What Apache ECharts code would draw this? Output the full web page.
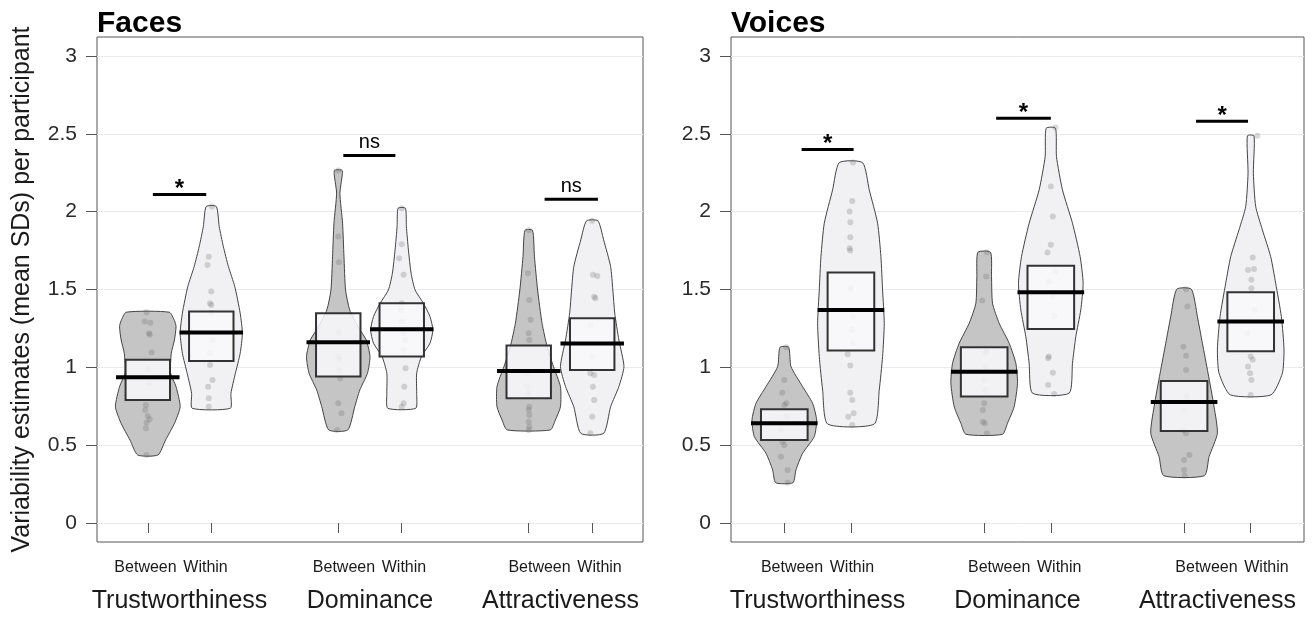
<!DOCTYPE html>
<html lang="en">
<head>
<meta charset="UTF-8">
<title>Variability estimates</title>
<script src="https://cdn.jsdelivr.net/npm/echarts@6.0.0/dist/echarts.min.js"></script>
<style>
  html, body { margin: 0; padding: 0; background: #fff; }
  #main { width: 1313px; height: 617px; }
</style>
</head>
<body>
<div id="main"></div>
<script>
// x positions of the six violins (Between/Within per trait)
var positions = [1, 2, 4, 5, 7, 8];
var traits = ['Trustworthiness', 'Dominance', 'Attractiveness'];
var traitPositions = [1.5, 4.5, 7.5];
var conditions = ['Between', 'Within'];
// where the Between/Within words sit (they are not centred on the ticks)
var facesConditionLabelPos = [0.964, 1.909, 4.09, 5.035, 7.17, 8.115];
var voicesConditionLabelPos = [1.116, 2.016, 4.225, 5.126, 7.336, 8.237];
var yTicks = [0, 0.5, 1, 1.5, 2, 2.5, 3];

// violin outlines: [value, half width], top to bottom
var facesOutlines = [
  [[1.354,0.34],[1.30,0.42],[1.262,0.445],[1.176,0.42],[1.09,0.37],[0.962,0.36],[0.876,0.445],[0.747,0.51],[0.64,0.42],[0.533,0.28],[0.437,0.16]],
  [[2.033,0.08],[1.905,0.125],[1.776,0.19],[1.647,0.27],[1.519,0.37],[1.348,0.455],[1.219,0.49],[1.09,0.455],[0.962,0.38],[0.834,0.31],[0.737,0.30]],
  [[2.264,0.063],[2.119,0.026],[1.926,0.068],[1.711,0.09],[1.497,0.115],[1.369,0.18],[1.262,0.31],[1.176,0.44],[1.069,0.50],[0.962,0.46],[0.855,0.34],[0.747,0.26],[0.598,0.15]],
  [[2.022,0.058],[1.905,0.073],[1.755,0.105],[1.605,0.147],[1.497,0.21],[1.412,0.34],[1.326,0.445],[1.24,0.49],[1.155,0.445],[1.069,0.31],[0.962,0.235],[0.834,0.235],[0.737,0.22]],
  [[1.88,0.06],[1.711,0.09],[1.497,0.14],[1.283,0.21],[1.133,0.29],[1.005,0.39],[0.876,0.50],[0.747,0.50],[0.662,0.42],[0.598,0.34]],
  [[1.941,0.09],[1.819,0.18],[1.647,0.29],[1.497,0.325],[1.348,0.355],[1.176,0.42],[1.005,0.50],[0.876,0.42],[0.747,0.29],[0.576,0.18]]
];
var voicesOutlines = [
  [[1.129,0.065],[1.005,0.10],[0.876,0.275],[0.769,0.425],[0.662,0.485],[0.555,0.45],[0.448,0.275],[0.341,0.175],[0.259,0.13]],
  [[2.315,0.175],[2.14,0.275],[1.926,0.40],[1.711,0.45],[1.497,0.475],[1.283,0.50],[1.069,0.475],[0.855,0.425],[0.636,0.35]],
  [[1.739,0.095],[1.583,0.11],[1.412,0.125],[1.283,0.225],[1.155,0.375],[1.026,0.475],[0.898,0.50],[0.747,0.45],[0.641,0.35],[0.57,0.275]],
  [[2.536,0.07],[2.354,0.085],[2.14,0.175],[1.926,0.325],[1.711,0.44],[1.54,0.485],[1.369,0.45],[1.197,0.375],[1.026,0.325],[0.834,0.275]],
  [[1.502,0.11],[1.326,0.20],[1.155,0.275],[0.962,0.36],[0.747,0.45],[0.576,0.50],[0.426,0.375],[0.304,0.305]],
  [[2.487,0.05],[2.247,0.04],[2.033,0.075],[1.884,0.175],[1.711,0.30],[1.54,0.375],[1.326,0.46],[1.112,0.50],[0.962,0.475],[0.823,0.305]]
];

// boxes [low, high] and means
var facesBoxes = [[0.79,1.048],[1.041,1.358],[0.941,1.348],[1.069,1.412],[0.801,1.14],[0.983,1.315]];
var facesMeans = [0.936, 1.223, 1.161, 1.244, 0.977, 1.153];
var voicesBoxes = [[0.533,0.73],[1.108,1.609],[0.812,1.129],[1.247,1.652],[0.591,0.913],[1.103,1.483]];
var voicesMeans = [0.641, 1.369, 0.972, 1.483, 0.778, 1.294];

// participant points: [value, horizontal jitter]
var facesPoints = [
  [[1.354,-0.02],[1.294,-0.05],[1.287,0.04],[1.219,0.02],[1.21,0.03],[1.095,0.06],[0.988,0],[0.898,0.02],[0.758,-0.03],[0.726,-0.04],[0.688,0],[0.666,0.03],[0.645,-0.02],[0.608,-0.03],[0.437,-0.02]],
  [[2.033,0.01],[1.711,-0.04],[1.658,-0.06],[1.487,0],[1.412,-0.02],[1.401,0],[1.348,0],[1.176,0.02],[1.09,-0.02],[1.015,-0.02],[0.919,0.02],[0.876,-0.05],[0.801,-0.04],[0.747,-0.04]],
  [[2.264,0],[1.84,0],[1.675,0.01],[1.223,0.01],[1.069,0],[1.048,0.02],[0.983,0.01],[0.93,0.03],[0.769,0],[0.705,0.05],[0.598,-0.02]],
  [[2.022,0],[1.791,0],[1.701,-0.04],[1.594,0.03],[1.412,0],[1.369,-0.01],[1.294,0],[1.219,0.03],[1.176,0.05],[1.112,0.03],[0.994,0.06],[0.876,0.04],[0.769,0.03],[0.747,0]],
  [[1.88,0],[1.605,-0.01],[1.433,0.01],[1.305,0.03],[1.219,0],[1.176,0.01],[0.962,-0.04],[0.876,-0.03],[0.834,-0.01],[0.747,0.01],[0.726,0],[0.694,0.01],[0.651,0],[0.619,0.01],[0.598,0]],
  [[1.941,0],[1.594,0.01],[1.587,0.08],[1.454,0.03],[1.444,0.05],[1.272,-0.03],[1.069,0],[0.962,-0.03],[0.951,0.03],[0.876,0.01],[0.79,0.03],[0.683,0],[0.576,-0.03]]
];
var voicesPoints = [
  [[1.129,0.03],[0.919,0],[0.837,-0.03],[0.769,0.03],[0.758,0],[0.683,0.03],[0.598,-0.05],[0.523,-0.03],[0.501,0],[0.426,-0.05],[0.341,0.05],[0.259,0.05]],
  [[2.316,0.03],[2.069,0.02],[2.001,-0.02],[1.932,-0.01],[1.836,-0.01],[1.765,-0.02],[1.75,-0.01],[1.508,-0.01],[1.326,0.04],[1.24,0.02],[1.155,0.03],[1.084,-0.05],[1.011,-0.01],[0.837,-0.01],[0.79,0.02],[0.705,0.04],[0.683,-0.04],[0.63,0.02]],
  [[1.74,0.04],[1.583,0.03],[1.429,-0.03],[1.101,0.04],[1.091,0.01],[1.005,0.01],[0.919,0],[0.855,0.01],[0.769,0],[0.726,-0.02],[0.651,-0.02],[0.641,0.01],[0.576,0.04]],
  [[2.541,0.07],[2.162,0],[1.969,0.03],[1.787,0],[1.737,-0.05],[1.615,0.07],[1.551,-0.03],[1.454,0.03],[1.332,0.05],[1.069,-0.03],[1.058,-0.04],[0.966,0.03],[0.887,-0.04],[0.829,0.05]],
  [[1.502,0.03],[1.39,0.05],[1.133,-0.01],[1.075,0.03],[0.983,0.03],[0.812,0.04],[0.726,0],[0.598,-0.01],[0.576,0.03],[0.437,0.08],[0.405,0],[0.341,0],[0.304,0.01]],
  [[2.487,0.1],[1.705,0.03],[1.626,-0.04],[1.632,0.05],[1.562,0.01],[1.508,0.01],[1.369,0.06],[1.219,-0.05],[1.069,0],[1.048,0.03],[1.005,-0.04],[0.962,-0.01],[0.919,0.01],[0.823,0]]
];

// significance bars: [from, to, value, label]
var facesSig = [[1.08, 1.92, 2.11, '*'], [4.08, 4.9, 2.36, 'ns'], [7.25, 8.09, 2.08, 'ns']];
var voicesSig = [[1.26, 2.04, 2.40, '*'], [4.18, 5.0, 2.60, '*'], [7.18, 7.96, 2.58, '*']];

var font = 'Liberation Sans, Arial, Helvetica, sans-serif';
var violinFill = ['#c5c5c5', '#f1f1f3'];

function violinSeries(g, outlines) {
  return {
    type: 'custom', xAxisIndex: g * 3, yAxisIndex: g, z: 1, silent: true,
    data: positions.map(function (p, i) { return [p, outlines[i][0][0]]; }),
    renderItem: function (params, api) {
      var i = params.dataIndex, pos = positions[i], o = outlines[i];
      var right = o.map(function (p) { return api.coord([pos + p[1], p[0]]); });
      var left = o.slice().reverse().map(function (p) { return api.coord([pos - p[1], p[0]]); });
      return {
        type: 'polygon',
        shape: { points: right.concat(left), smooth: 0.2 },
        style: { fill: violinFill[i % 2], stroke: '#444', lineWidth: 1 }
      };
    }
  };
}

function pointSeries(g, points) {
  var data = [];
  points.forEach(function (arr, i) {
    arr.forEach(function (p) { data.push([positions[i] + p[1], p[0]]); });
  });
  return {
    type: 'scatter', xAxisIndex: g * 3, yAxisIndex: g, z: 2, silent: true,
    symbolSize: 6, data: data,
    itemStyle: { color: 'rgba(100,100,100,0.3)' }
  };
}

function boxSeries(g, boxes, means) {
  return {
    type: 'custom', xAxisIndex: g * 3, yAxisIndex: g, z: 3, silent: true,
    data: positions.map(function (p, i) { return [p, means[i]]; }),
    renderItem: function (params, api) {
      var i = params.dataIndex, pos = positions[i];
      var a = api.coord([pos - 0.35, boxes[i][1]]);
      var b = api.coord([pos + 0.35, boxes[i][0]]);
      var m1 = api.coord([pos - 0.5, means[i]]);
      var m2 = api.coord([pos + 0.5, means[i]]);
      return {
        type: 'group',
        children: [
          { type: 'rect', shape: { x: a[0], y: a[1], width: b[0] - a[0], height: b[1] - a[1] },
            style: { fill: 'rgba(249,249,251,0.85)', stroke: '#333', lineWidth: 2 } },
          { type: 'line', shape: { x1: m1[0], y1: m1[1], x2: m2[0], y2: m2[1] },
            style: { stroke: '#000', lineWidth: 4 } }
        ]
      };
    }
  };
}

function sigSeries(g, sig) {
  return {
    type: 'custom', xAxisIndex: g * 3, yAxisIndex: g, z: 4, silent: true,
    data: sig.map(function (s) { return [(s[0] + s[1]) / 2, s[2]]; }),
    renderItem: function (params, api) {
      var s = sig[params.dataIndex];
      var p1 = api.coord([s[0], s[2]]), p2 = api.coord([s[1], s[2]]);
      var star = s[3] === '*';
      return {
        type: 'group',
        children: [
          { type: 'line', shape: { x1: p1[0], y1: p1[1], x2: p2[0], y2: p2[1] },
            style: { stroke: '#000', lineWidth: 3 } },
          { type: 'text', x: (p1[0] + p2[0]) / 2, y: star ? p1[1] + 7 : p1[1] - 3,
            style: { text: s[3], fill: '#000', font: (star ? 'bold 24px ' : '20px ') + font,
              align: 'center', verticalAlign: 'bottom' } }
        ]
      };
    }
  };
}

function xAxes(g, labelPos) {
  var base = { gridIndex: g, type: 'value', min: 0.2, max: 8.8, position: 'bottom', offset: 0,
    axisLine: { show: false }, splitLine: { show: false } };
  return [
    // ticks only
    Object.assign({}, base, {
      axisTick: { show: true, inside: false, length: 10, customValues: positions, lineStyle: { color: '#555', width: 1 } },
      axisLabel: { show: false }
    }),
    // Between / Within words
    Object.assign({}, base, {
      axisTick: { show: false },
      axisLabel: {
        customValues: labelPos, margin: 18, fontSize: 16, color: '#1a1a1a', fontFamily: font,
        formatter: function (v) { return conditions[labelPos.indexOf(v) % 2]; }
      }
    }),
    // trait names
    Object.assign({}, base, {
      axisTick: { show: false },
      axisLabel: {
        customValues: traitPositions, margin: 47, fontSize: 25, color: '#1a1a1a', fontFamily: font,
        formatter: function (v) { return traits[traitPositions.indexOf(v)]; }
      }
    })
  ];
}

function yAxis(g, name) {
  return {
    gridIndex: g, type: 'value', min: -0.122, max: 3.122,
    name: name, nameLocation: 'middle', nameGap: 62,
    nameTextStyle: { fontSize: 25, color: '#1a1a1a', fontFamily: font },
    axisLine: { show: false },
    axisTick: { show: true, inside: false, length: 11, customValues: yTicks, lineStyle: { color: '#555' } },
    axisLabel: { customValues: yTicks, margin: 20, fontSize: 21, color: '#2a2a2a', fontFamily: font },
    splitLine: { show: true, lineStyle: { color: '#e8eaee', width: 1 } }
  };
}

var myChart = echarts.init(document.getElementById('main'));
var option = {
  animation: false,
  backgroundColor: '#fff',
  title: [
    { text: 'Faces', left: 92, top: 4, textStyle: { fontSize: 30, fontWeight: 'bold', color: '#000', fontFamily: font } },
    { text: 'Voices', left: 726, top: 4, textStyle: { fontSize: 30, fontWeight: 'bold', color: '#000', fontFamily: font } }
  ],
  grid: [
    { left: 97, top: 37, width: 546, height: 505, show: true, borderColor: '#555', borderWidth: 1, backgroundColor: 'transparent' },
    { left: 731, top: 37, width: 573, height: 505, show: true, borderColor: '#555', borderWidth: 1, backgroundColor: 'transparent' }
  ],
  xAxis: xAxes(0, facesConditionLabelPos).concat(xAxes(1, voicesConditionLabelPos)),
  yAxis: [yAxis(0, 'Variability estimates (mean SDs) per participant'), yAxis(1, '')],
  series: [
    violinSeries(0, facesOutlines), pointSeries(0, facesPoints), boxSeries(0, facesBoxes, facesMeans), sigSeries(0, facesSig),
    violinSeries(1, voicesOutlines), pointSeries(1, voicesPoints), boxSeries(1, voicesBoxes, voicesMeans), sigSeries(1, voicesSig)
  ]
};
myChart.setOption(option);
</script>
</body>
</html>
